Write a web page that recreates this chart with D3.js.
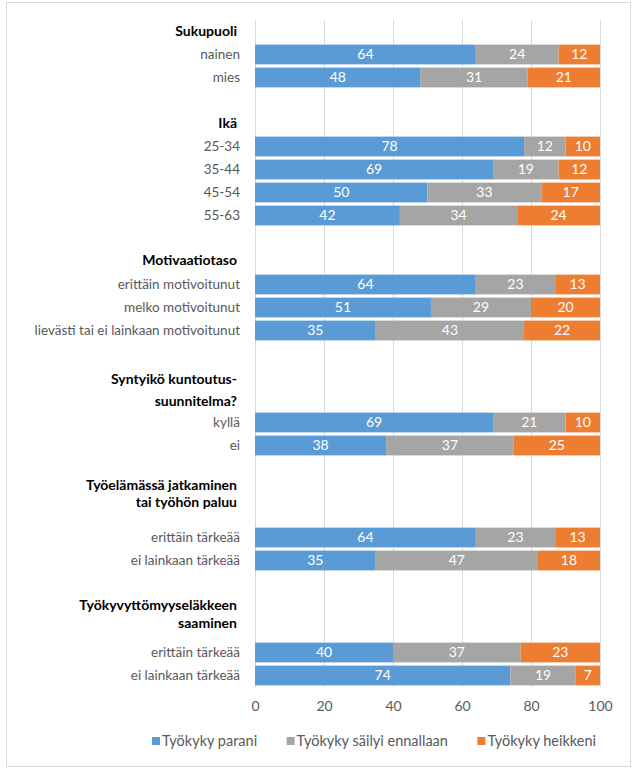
<!DOCTYPE html>
<html><head><meta charset="utf-8">
<script src="https://cdn.jsdelivr.net/npm/d3@7"></script>
<style>
html,body{margin:0;padding:0;background:#fff;}
svg{display:block;font-family:Lato,"Noto Sans",sans-serif;}
</style></head>
<body>
<svg id="c" width="636" height="776"></svg>
<script>
// ---- data ----
const groupTitles = [
  ["Sukupuoli"],
  ["Ikä"],
  ["Motivaatiotaso"],
  ["Syntyikö kuntoutus-", "suunnitelma?"],
  ["Työelämässä jatkaminen", "tai työhön paluu"],
  ["Työkyvyttömyyseläkkeen", "saaminen"]
];
const groupCategories = [
  ["nainen", "mies"],
  ["25-34", "35-44", "45-54", "55-63"],
  ["erittäin motivoitunut", "melko motivoitunut", "lievästi tai ei lainkaan motivoitunut"],
  ["kyllä", "ei"],
  ["erittäin tärkeää", "ei lainkaan tärkeää"],
  ["erittäin tärkeää", "ei lainkaan tärkeää"]
];
const seriesNames = ["Työkyky parani", "Työkyky säilyi ennallaan", "Työkyky heikkeni"];
const parani   = [64, 48, 78, 69, 50, 42, 64, 51, 35, 69, 38, 64, 35, 40, 74];
const sailyi   = [24, 31, 12, 19, 33, 34, 23, 29, 43, 21, 37, 23, 47, 37, 19];
const heikkeni = [12, 21, 10, 12, 17, 24, 13, 20, 22, 10, 25, 13, 18, 23, 7];
const xTicks = [0, 20, 40, 60, 80, 100];

// ---- layout / style ----
const colors = ["#5B9BD5", "#A5A5A5", "#ED7D31"];
// vertical offsets (px) of header text lines, relative to first category row centre
const headerDy = [[-23], [-23], [-24], [-43, -21], [-52, -35], [-47, -29]];

// build row list
const rows = [];
let di = 0;
groupTitles.forEach((t, g) => {
  for (let k = 0; k < t.length; k++) rows.push({type: "header", g});
  groupCategories[g].forEach(c => { rows.push({type: "cat", label: c, i: di++, g}); });
  if (g < groupTitles.length - 1) rows.push({type: "blank"});
});

const svg = d3.select("#c");
const plot = {left: 255, right: 600, top: 20, bottom: 687};

// outer chart border
svg.append("rect").attr("x", 6.5).attr("y", 2.5).attr("width", 624).attr("height", 764)
  .attr("fill", "#fff").attr("stroke", "#D9D9D9").attr("stroke-width", 1);

const x = d3.scaleLinear().domain([0, 100]).range([plot.left, plot.right]);
const y = d3.scaleBand().domain(d3.range(rows.length)).range([plot.top, plot.bottom])
  .paddingInner(0.14).paddingOuter(0.07);

// gridlines
svg.append("g").selectAll("line").data(xTicks).join("line")
  .attr("x1", d => Math.round(x(d)) + 0.5).attr("x2", d => Math.round(x(d)) + 0.5)
  .attr("y1", plot.top).attr("y2", plot.bottom)
  .attr("stroke", "#D9D9D9").attr("stroke-width", 1);

// stacked data
const catRows = rows.map((r, ri) => ({...r, ri})).filter(r => r.type === "cat");
const table = catRows.map(r => ({ri: r.ri, label: r.label, a: parani[r.i], b: sailyi[r.i], c: heikkeni[r.i]}));
const stack = d3.stack().keys(["a", "b", "c"])(table);

const gBars = svg.append("g");
stack.forEach((layer, si) => {
  const g = gBars.append("g");
  g.selectAll("rect").data(layer).join("rect")
    .attr("x", d => x(d[0]))
    .attr("width", d => x(d[1]) - x(d[0]))
    .attr("y", d => y(d.data.ri))
    .attr("height", y.bandwidth())
    .attr("fill", colors[si]);
  g.selectAll("text").data(layer).join("text")
    .attr("x", d => (x(d[0]) + x(d[1])) / 2)
    .attr("y", d => y(d.data.ri) + y.bandwidth() / 2)
    .attr("dy", "0.35em")
    .attr("text-anchor", "middle")
    .attr("fill", "#fff")
    .attr("font-size", 14)
    .text(d => d[1] - d[0]);
});

// category labels
svg.append("g").selectAll("text").data(catRows).join("text")
  .attr("x", plot.left - 15)
  .attr("y", d => y(d.ri) + y.bandwidth() / 2)
  .attr("dy", "0.35em")
  .attr("text-anchor", "end")
  .attr("fill", "#595959")
  .attr("font-size", 13.5)
  .text(d => d.label);

// group headers
const firstCatRow = groupTitles.map((t, g) => catRows.find(r => r.g === g).ri);
groupTitles.forEach((lines, g) => {
  const cy = y(firstCatRow[g]) + y.bandwidth() / 2;
  lines.forEach((line, k) => {
    svg.append("text")
      .attr("x", plot.left - 18)
      .attr("y", cy + headerDy[g][k])
      .attr("dy", "0.35em")
      .attr("text-anchor", "end")
      .attr("fill", "#000")
      .attr("font-weight", "bold")
      .attr("font-size", 14)
      .text(line);
  });
});

// x axis tick labels
const ax = svg.append("g").attr("transform", `translate(0,${plot.bottom})`)
  .call(d3.axisBottom(x).tickValues(xTicks).tickSize(0).tickPadding(14));
ax.select(".domain").remove();
ax.selectAll("text").attr("font-size", 14).attr("fill", "#595959")
  .attr("font-family", "Lato, 'Noto Sans', sans-serif");

// legend: spread items between left and right extents
const legLeft = 152, legRight = 596;
const leg = svg.append("g").attr("transform", `translate(${legLeft},741)`);
const items = seriesNames.map((name, i) => {
  const gi = leg.append("g");
  gi.append("rect").attr("x", 0).attr("y", -4).attr("width", 8).attr("height", 8).attr("fill", colors[i]);
  const t = gi.append("text").attr("x", 10).attr("y", 0).attr("dy", "0.35em")
    .attr("fill", "#595959").attr("font-size", 14.5).text(name);
  return {gi, w: 10 + t.node().getComputedTextLength()};
});
const gap = ((legRight - legLeft) - d3.sum(items, d => d.w)) / (items.length - 1);
let lx = 0;
items.forEach(it => { it.gi.attr("transform", `translate(${lx},0)`); lx += it.w + gap; });
</script>
</body></html>
